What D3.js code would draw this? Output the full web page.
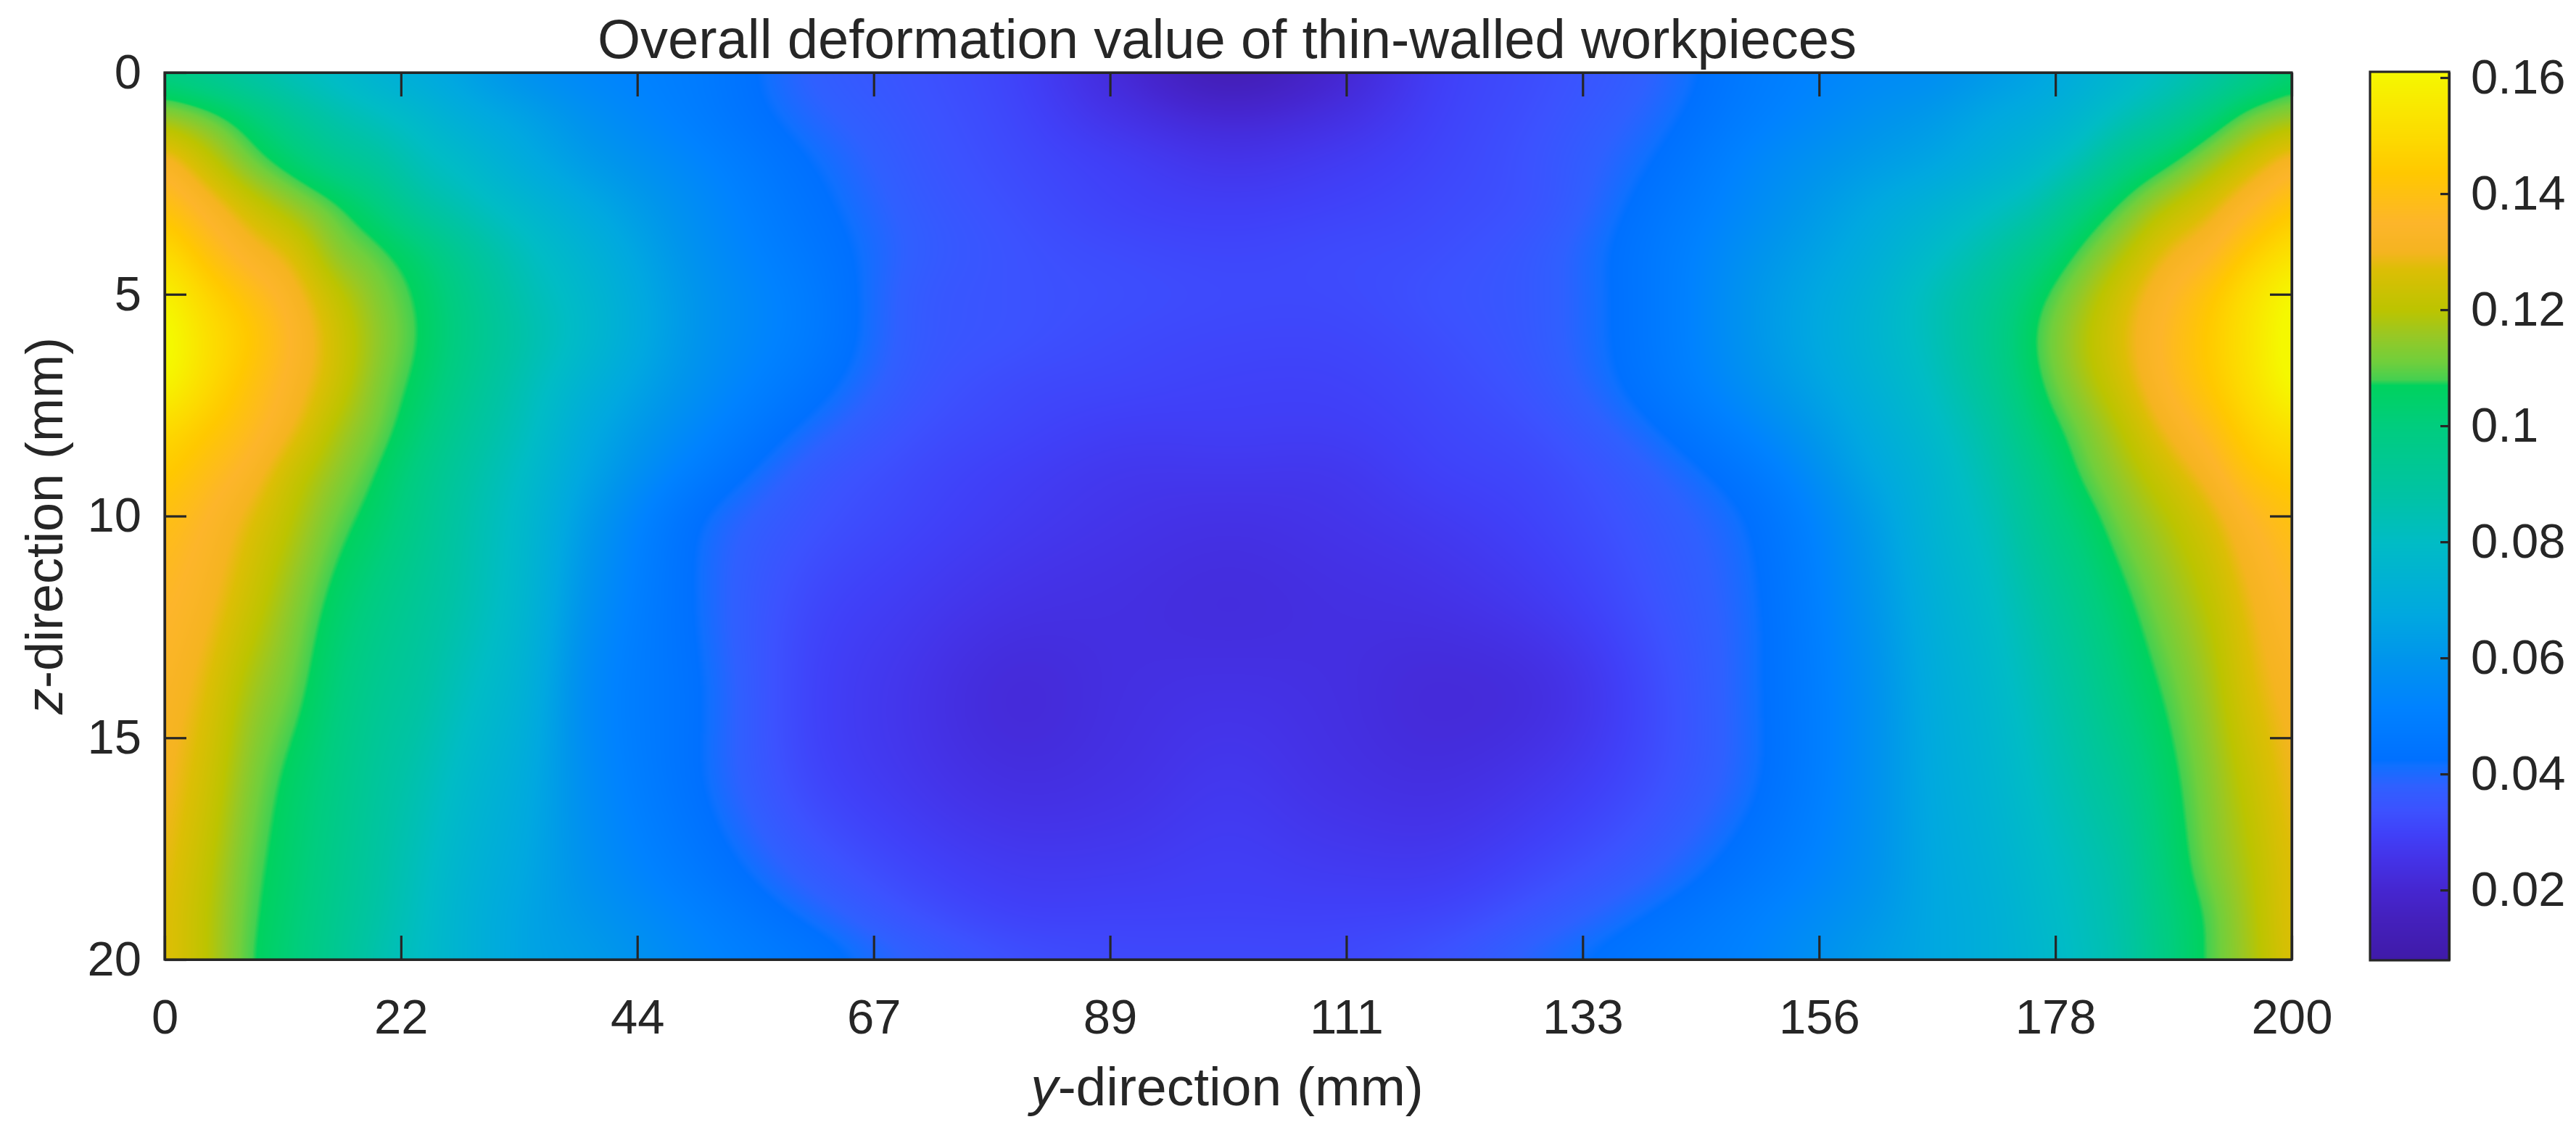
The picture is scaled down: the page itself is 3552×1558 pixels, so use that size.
<!DOCTYPE html>
<html><head><meta charset="utf-8">
<script src="https://cdn.jsdelivr.net/npm/d3@7"></script>
<style>
html,body{margin:0;padding:0;background:#fff;width:3552px;height:1558px;overflow:hidden}
canvas,svg{position:absolute;left:0;top:0}
text{font-family:"Liberation Sans",Arial,sans-serif;fill:#262626}
</style></head><body>
<canvas id="c" width="3552" height="1558"></canvas>
<svg id="s" width="3552" height="1558"></svg>
<script>
const titleText = "Overall deformation value of thin-walled workpieces";
const yTickValues = [0,22.22,44.44,66.67,88.89,111.11,133.33,155.56,177.78,200];
const zTickValues = [0,5,10,15,20];
const cbTickValues = [0.02,0.04,0.06,0.08,0.1,0.12,0.14,0.16];
const colorDomain = [0.0079,0.015,0.02,0.0255,0.0296,0.0338,0.038,0.0415,0.0425,0.0515,0.06,0.0675,0.08,0.088,0.10,0.107,0.108,0.111,0.1155,0.12,0.127,0.13,0.135,0.1436,0.149,0.161];
const colorRange = ["#3f1aa8","#4420bc","#4526d0","#4433e8","#4040f8","#3c52ff","#2f60ff","#1070ff","#0070ff","#0082ff","#0095ec","#00a8e0","#00bcc5","#00c3a5","#00cd7e","#00d25e","#45d050","#70cf3c","#97c825","#bcc400","#dcbe05","#f5b420","#fdb52a","#ffc800","#fdd800","#f5f800"];
const yCols = [0,4,8,12,16,20,24,28,34,40,50,60,70,80,90,100,110,120,130,140,150,160,166,172,176,180,184,188,192,196,200];
const zRows = [0,1,2,3,4,5,6,7,8,9,10,12,14,16,18,19,20];
const row00 = [.095,.09,.085,.081,.077,.072,.068,.064,.057,.053,.048,.038,.034,.030,.021,.012,.019,.029,.033,.038,.048,.054,.056,.061,.065,.07,.075,.08,.085,.092,.1];
const row01 = [.116,.111,.103,.094,.087,.082,.077,.071,.065,.058,.049,.040,.035,.031,.025,.021,.024,.030,.034,.040,.050,.058,.062,.068,.071,.076,.083,.09,.1,.111,.116];
const row02 = [.133,.122,.111,.103,.095,.09,.083,.078,.069,.062,.053,.043,.036,.032,.029,.026,.028,.031,.035,.0425,.054,.062,.066,.072,.077,.084,.096,.105,.115,.124,.133];
const row03 = [.141,.133,.124,.116,.109,.1,.09,.084,.076,.068,.056,.045,.037,.033,.030,.029,.030,.032,.035,.045,.056,.067,.073,.08,.086,.098,.109,.119,.126,.135,.143];
const row04 = [.15,.14,.132,.126,.114,.109,.102,.093,.082,.073,.058,.047,.038,.034,.032,.031,.032,.033,.037,.047,.059,.07,.078,.088,.097,.108,.118,.128,.134,.144,.152];
const row05 = [.159,.148,.14,.132,.122,.113,.106,.097,.085,.076,.06,.049,.037,.034,.033,.032,.032,.034,.037,.047,.061,.073,.083,.094,.105,.115,.125,.134,.142,.152,.162];
const row06 = [.164,.152,.144,.135,.125,.115,.107,.098,.087,.077,.06,.049,.037,.034,.032,.031,.031,.033,.037,.047,.061,.074,.083,.096,.108,.118,.127,.136,.144,.153,.164];
const row07 = [.161,.15,.141,.133,.124,.113,.105,.096,.084,.073,.058,.046,.036,.032,.031,.030,.030,.032,.036,.046,.059,.072,.081,.094,.106,.116,.125,.135,.143,.152,.163];
const row08 = [.15,.144,.138,.13,.119,.111,.102,.093,.082,.069,.054,.0415,.034,.031,.029,.029,.029,.031,.034,.042,.054,.069,.078,.09,.102,.111,.12,.13,.138,.147,.153];
const row09 = [.145,.139,.133,.123,.115,.107,.098,.09,.079,.066,.049,.037,.032,.029,.027,.027,.027,.030,.032,.038,.048,.066,.075,.087,.097,.108,.116,.124,.132,.142,.146];
const row10 = [.14,.135,.128,.12,.111,.104,.096,.088,.077,.062,.043,.035,.031,.028,.026,.025,.026,.028,.031,.036,.044,.062,.074,.084,.094,.103,.112,.119,.126,.135,.141];
const row12 = [.136,.131,.123,.114,.105,.098,.092,.086,.075,.058,.042,.032,.028,.025,.024,.023,.024,.025,.028,.034,.0422,.059,.071,.08,.088,.096,.105,.113,.12,.129,.136];
const row14 = [.133,.127,.117,.11,.101,.094,.089,.082,.072,.055,.043,.031,.026,.022,.024,.025,.024,.022,.024,.032,.042,.057,.069,.077,.084,.091,.1,.108,.116,.126,.132];
const row16 = [.131,.124,.113,.105,.098,.091,.085,.078,.069,.056,.043,.032,.027,.024,.025,.027,.025,.024,.027,.033,.0422,.057,.068,.075,.081,.087,.094,.104,.113,.122,.13];
const row18 = [.129,.121,.11,.103,.096,.089,.082,.075,.067,.058,.047,.037,.031,.028,.028,.029,.028,.028,.032,.038,.047,.058,.067,.073,.078,.083,.089,.101,.111,.119,.128];
const row19 = [.128,.12,.109,.102,.095,.088,.081,.074,.066,.06,.051,.0415,.034,.030,.030,.030,.030,.031,.036,.043,.051,.06,.067,.072,.077,.082,.088,.099,.108,.118,.128];
const row20 = [.128,.12,.108,.101,.094,.086,.08,.074,.066,.063,.054,.047,.039,.034,.032,.032,.032,.035,.041,.047,.053,.063,.067,.072,.076,.081,.087,.098,.108,.117,.127];
const grid = [row00,row01,row02,row03,row04,row05,row06,row07,row08,row09,row10,row12,row14,row16,row18,row19,row20];

const plot = {l:227,r:3160,t:100,b:1323};
const bar = {l:3268,r:3377,t:99,b:1324};
const x = d3.scaleLinear().domain([0,200]).range([plot.l,plot.r]);
const y = d3.scaleLinear().domain([0,20]).range([plot.t,plot.b]);
const cb = d3.scaleLinear().domain([0.0079,0.161]).range([bar.b,bar.t]);
const color = d3.scaleLinear().domain(colorDomain).range(colorRange).clamp(true);

// smooth (interp-shading) surface through the grid
function slopes(ks,vs){
  const n=ks.length,m=new Array(n);
  for(let i=0;i<n;i++){
    if(i==0) m[i]=(vs[1]-vs[0])/(ks[1]-ks[0]);
    else if(i==n-1) m[i]=(vs[n-1]-vs[n-2])/(ks[n-1]-ks[n-2]);
    else m[i]=(vs[i+1]-vs[i-1])/(ks[i+1]-ks[i-1]);
  }
  return m;
}
function herm(ks,vs,m,t){
  let i=d3.bisectRight(ks,t)-1; i=Math.max(0,Math.min(ks.length-2,i));
  const h=ks[i+1]-ks[i],s=(t-ks[i])/h,s2=s*s,s3=s2*s;
  return (2*s3-3*s2+1)*vs[i]+(s3-2*s2+s)*h*m[i]+(-2*s3+3*s2)*vs[i+1]+(s3-s2)*h*m[i+1];
}
const ctx=document.getElementById('c').getContext('2d');
const W=plot.r-plot.l+1,H=plot.b-plot.t+1;
const field=new Float32Array(W*H);
const rowSl=grid.map(r=>slopes(yCols,r));
for(let px=0;px<W;px++){
  const yv=x.invert(plot.l+px);
  const vals=grid.map((r,i)=>herm(yCols,r,rowSl[i],yv));
  const ms=slopes(zRows,vals);
  for(let py=0;py<H;py++){
    field[py*W+px]=herm(zRows,vals,ms,y.invert(plot.t+py));
  }
}
// soften the shading so contours are free of grid kinks (edge-clamped box passes)
function boxLine(get,set,n,r){
  let sum=0;const buf=new Float32Array(n);
  for(let i=0;i<n;i++)buf[i]=get(i);
  for(let i=-r;i<=r;i++)sum+=buf[Math.max(0,Math.min(n-1,i))];
  for(let i=0;i<n;i++){
    set(i,sum/(2*r+1));
    sum+=buf[Math.min(n-1,i+r+1)]-buf[Math.max(0,i-r)];
  }
}
for(let pass=0;pass<3;pass++){
  for(let py=0;py<H;py++)boxLine(i=>field[py*W+i],(i,v)=>{field[py*W+i]=v;},W,13);
  for(let px=0;px<W;px++)boxLine(i=>field[i*W+px],(i,v)=>{field[i*W+px]=v;},H,24);
}
const img=ctx.createImageData(W,H);
const lut=d3.range(0,2001).map(i=>d3.rgb(color(i/2000*0.17)));
for(let k=0;k<W*H;k++){
  const c=lut[Math.max(0,Math.min(2000,Math.round(field[k]/0.17*2000)))];
  img.data[k*4]=c.r;img.data[k*4+1]=c.g;img.data[k*4+2]=c.b;img.data[k*4+3]=255;
}
ctx.putImageData(img,plot.l,plot.t);
for(let py=bar.t;py<=bar.b;py++){
  ctx.fillStyle=color(cb.invert(py));
  ctx.fillRect(bar.l,py,bar.r-bar.l,1);
}

const svg=d3.select('#s');
const fs=67, lw=3.2, ink='#262626';
function style(g){
  g.selectAll('.domain').attr('stroke',ink).attr('stroke-width',lw);
  g.selectAll('line').attr('stroke',ink).attr('stroke-width',lw);
  g.selectAll('text').style('font-size',fs+'px').attr('fill',ink);
}
const xf=d3.format('.0f');
const bottom=svg.append('g').attr('transform',`translate(0,${plot.b})`)
  .call(d3.axisBottom(x).tickValues(yTickValues).tickFormat(xf).tickSizeInner(-33).tickSizeOuter(0).tickPadding(54));
style(bottom);
const top_=svg.append('g').attr('transform',`translate(0,${plot.t})`)
  .call(d3.axisTop(x).tickValues(yTickValues).tickFormat('').tickSizeInner(-33).tickSizeOuter(0));
style(top_);
const left=svg.append('g').attr('transform',`translate(${plot.l},0)`)
  .call(d3.axisLeft(y).tickValues(zTickValues).tickFormat(xf).tickSizeInner(-30).tickSizeOuter(0).tickPadding(32));
style(left);
const right=svg.append('g').attr('transform',`translate(${plot.r},0)`)
  .call(d3.axisRight(y).tickValues(zTickValues).tickFormat('').tickSizeInner(-30).tickSizeOuter(0));
style(right);
const cbAxis=svg.append('g').attr('transform',`translate(${bar.r},0)`)
  .call(d3.axisRight(cb).tickValues(cbTickValues).tickFormat(d=>String(+d.toFixed(2))).tickSizeInner(-12).tickSizeOuter(0).tickPadding(30));
style(cbAxis);
svg.append('rect').attr('x',bar.l).attr('y',bar.t).attr('width',bar.r-bar.l).attr('height',bar.b-bar.t)
  .attr('fill','none').attr('stroke',ink).attr('stroke-width',lw);
svg.append('rect').attr('x',plot.l).attr('y',plot.t).attr('width',plot.r-plot.l).attr('height',plot.b-plot.t)
  .attr('fill','none').attr('stroke',ink).attr('stroke-width',lw);

svg.append('text').attr('x',1692).attr('y',80).attr('text-anchor','middle')
  .style('font-size','76px').text(titleText);
const xl=svg.append('text').attr('x',1692).attr('y',1524).attr('text-anchor','middle').style('font-size','75px');
xl.append('tspan').style('font-style','italic').text('y');
xl.append('tspan').text('-direction (mm)');
const yl=svg.append('text').attr('transform',`translate(86,725) rotate(-90)`).attr('text-anchor','middle').style('font-size','72px');
yl.append('tspan').style('font-style','italic').text('z');
yl.append('tspan').text('-direction (mm)');
</script>
</body></html>
